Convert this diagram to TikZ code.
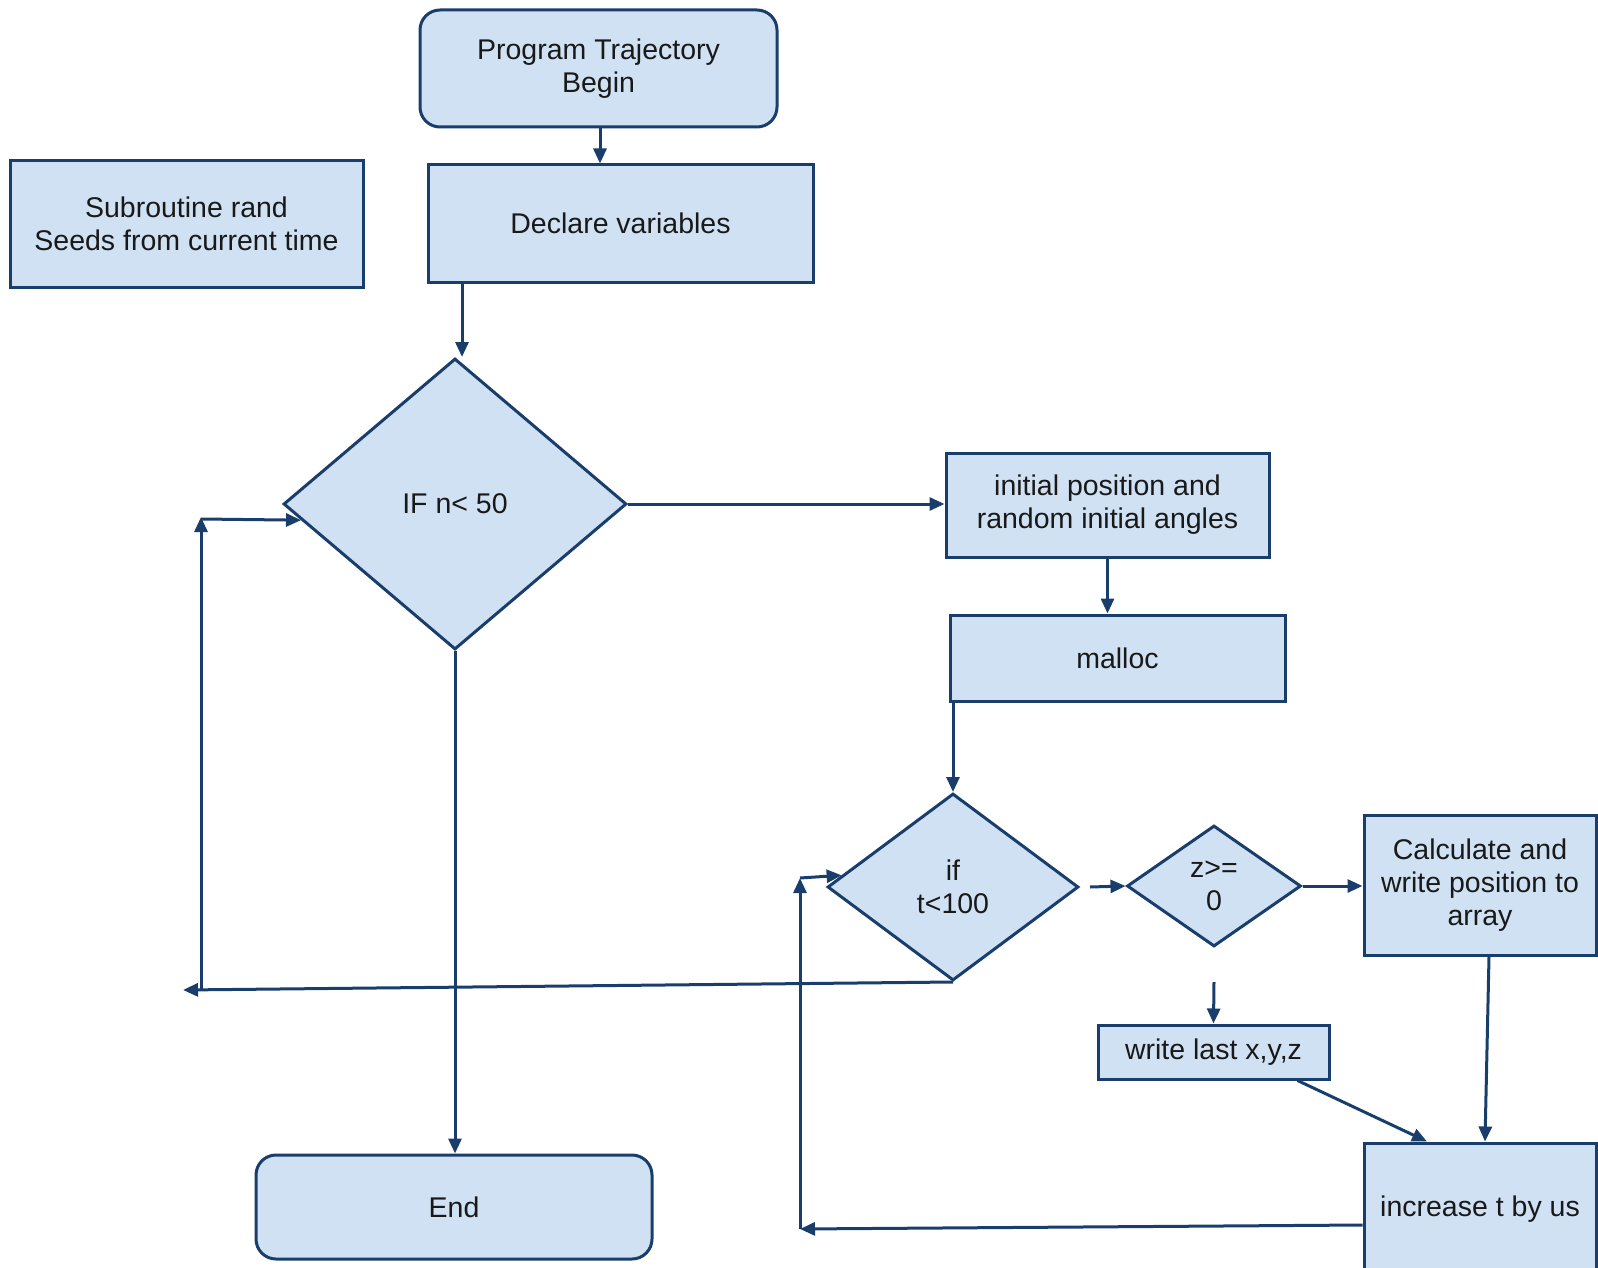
\documentclass[tikz,border=0pt]{standalone}
\usepackage{fontspec}
\setmainfont{Liberation Sans}
\usetikzlibrary{shapes.geometric,arrows.meta}
\definecolor{boxfill}{RGB}{207,225,243}
\definecolor{boxline}{RGB}{26,62,108}
\begin{document}
\begin{tikzpicture}[x=1pt,y=-1pt,
  every node/.style={font=\fontsize{28.5}{33}\selectfont, text=black!90, align=center},
  box/.style={draw=boxline, fill=boxfill, line width=3pt, inner sep=0pt},
  rbox/.style={box, rounded corners=20pt},
  dia/.style={draw=boxline, fill=boxfill, line width=3pt, diamond, inner sep=0pt},
  conn/.style={draw=boxline, line width=3pt},
  arr/.style={conn, -{Triangle[length=15pt,width=13pt]}}]
\useasboundingbox (0,0) rectangle (1598,1268);
\clip (0,0) rectangle (1598,1268);

\node[rbox, minimum width=357pt, minimum height=117pt] (begin) at (598.5,68.5) {Program Trajectory\\Begin};
\node[box, minimum width=385pt, minimum height=117pt] (declare) at (620.5,223.5) {Declare variables};
\node[box, minimum width=353pt, minimum height=126pt] (sub) at (186.5,224) {Subroutine rand\\Seeds from current time};
\node[dia, minimum width=343pt, minimum height=291pt] (ifn) at (455,504) {IF n< 50};
\node[box, minimum width=323pt, minimum height=104pt] (init) at (1107.5,505) {initial position and\\random initial angles};
\node[box, minimum width=335pt, minimum height=86pt] (malloc) at (1117.5,658) {malloc};
\node[dia, minimum width=251pt, minimum height=187pt] (ift) at (953,887) {if\\t<100};
\node[dia, minimum width=174pt, minimum height=121pt] (zc) at (1214,886) {z>=\\0};
\node[box, minimum width=232pt, minimum height=140pt] (calc) at (1480,885) {Calculate and\\write position to\\array};
\node[box, minimum width=231pt, minimum height=54pt] (wl) at (1213.5,1052) {write last x,y,z};
\node[box, minimum width=232pt, minimum height=132pt] (inc) at (1480,1209) {increase t by us};
\node[rbox, minimum width=396pt, minimum height=104pt] (end) at (454,1207) {End};

\coordinate (la) at (183,990);
\coordinate (lb) at (201,990);
\coordinate (lc) at (201,517);
\coordinate (ld) at (201,519);
\coordinate (ra) at (800,1229);
\coordinate (rb) at (800,878);

\draw[arr] (begin.south -| 600,0) -- (declare.north -| 600,0);
\draw[arr] (declare.south -| 462,0) -- (ifn.north -| 462,0);
\draw[arr] (ifn.east) -- (ifn.east -| init.west);
\draw[arr] (init.south) -- (init.south |- malloc.north);
\draw[arr] (ift.north |- malloc.south) -- (ift.north);
\draw[arr] (ifn.south) -- (ifn.south |- end.north);
\draw[arr] (ift.south) -- (la);
\draw[arr] (lb) -- (lc);
\draw[arr] (ld) -- (ifn.186);
\draw[arr] ([xshift=10pt]ift.east) -- (zc.west);
\draw[arr] (zc.east) -- (zc.east -| calc.west);
\draw[arr] ([yshift=-34pt]zc.south) -- (wl.north);
\draw[arr] ([xshift=-33pt]wl.south east) -- ([xshift=-53pt]inc.north);
\draw[arr] ([xshift=9pt]calc.south) -- ([xshift=5pt]inc.north);
\draw[arr] ([yshift=-16pt]inc.west) -- (ra);
\draw[arr] (ra) -- (rb);
\draw[arr] (rb) -- (ift.174);
\end{tikzpicture}
\end{document}
